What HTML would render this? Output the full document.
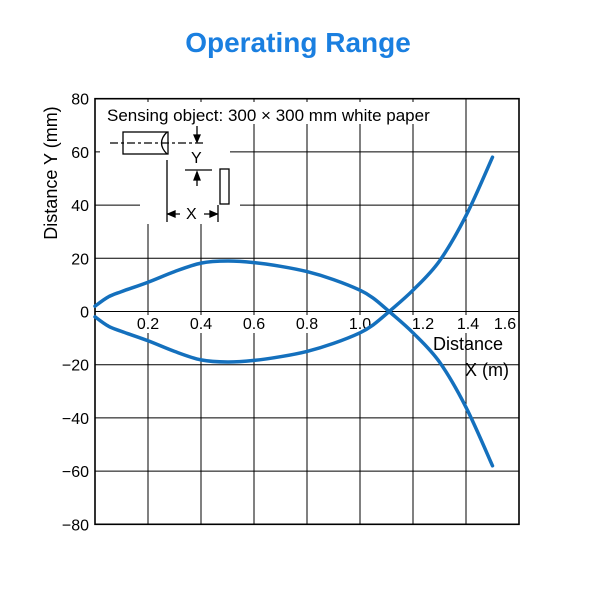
<!DOCTYPE html>
<html><head><meta charset="utf-8"><style>
body{margin:0;background:#fff;width:600px;height:600px;overflow:hidden}
svg{font-family:"Liberation Sans",Arial,sans-serif}
</style></head><body>
<svg width="600" height="600">
<text x="298" y="52" text-anchor="middle" font-size="28" font-weight="bold" fill="#1a7fe0">Operating Range</text>
<g id="grid"></g>
<rect x="100" y="102" width="345" height="22" fill="#fff"/>
<rect x="100" y="124" width="130" height="48" fill="#fff"/>
<rect x="140" y="172" width="100" height="52" fill="#fff"/>
<g id="inset" stroke="#000" fill="none" stroke-width="1.3">
 <text x="107" y="121" font-size="17" fill="#000" stroke="none">Sensing object: 300 × 300 mm white paper</text>
 <rect x="123" y="132" width="45" height="22"/>
 <path d="M167 132 Q156 143 167 154"/>
 <path d="M110 143 H205" stroke-dasharray="8,3,3,3"/>
 <path d="M185 170 H212"/>
 <path d="M197 126 V140 M197 186 V175"/>
 <path d="M194 135 L197 142 L200 135 Z M194 180 L197 172 L200 180 Z" fill="#000"/>
 <text x="191" y="163" font-size="16" fill="#000" stroke="none">Y</text>
 <rect x="220" y="169" width="9" height="35"/>
 <path d="M167 160 V222 M218 205 V222"/>
 <path d="M167 214 H180 M204 214 H218"/>
 <path d="M168 214 L175 211 L175 217 Z M217 214 L210 211 L210 217 Z" fill="#000"/>
 <text x="186" y="219" font-size="16" fill="#000" stroke="none">X</text>
</g>
<g id="axes"></g>
<g id="curves"></g>
<text x="468" y="350" text-anchor="middle" font-size="18">Distance</text>
<text x="487" y="376" text-anchor="middle" font-size="18">X (m)</text>
<text transform="translate(57,173) rotate(-90)" text-anchor="middle" font-size="18">Distance Y (mm)</text>
</svg>
<script>
const xTicks=[0.2,0.4,0.6,0.8,1.0,1.2,1.4,1.6];
const xTickLabels=["0.2","0.4","0.6","0.8","1.0","1.2","1.4","1.6"];
const yTicks=[80,60,40,20,0,-20,-40,-60,-80];
const yTickLabels=["80","60","40","20","0","−20","−40","−60","−80"];
const upperX=[0,0.05,0.1,0.2,0.3,0.4,0.5,0.6,0.7,0.8,0.9,1.0,1.05,1.11,1.2,1.3,1.4,1.5];
const upperY=[2,5.5,7.5,11,15,18.2,19,18.4,17,15,12,8,5,0,-8,-19,-36,-58];
const lowerX=[0,0.05,0.1,0.2,0.3,0.4,0.5,0.6,0.7,0.8,0.9,1.0,1.05,1.11,1.2,1.3,1.4,1.5];
const lowerY=[-2,-5.5,-7.5,-11,-15,-18.2,-19,-18.4,-17,-15,-12,-8,-5,0,8,19,36,58];
const ns="http://www.w3.org/2000/svg";
const X=v=>95+v*265, Y=v=>311.5-v*2.66;
const g=document.getElementById('grid'),ax=document.getElementById('axes'),cv=document.getElementById('curves');
function mk(t,a,p){const e=document.createElementNS(ns,t);for(const k in a)e.setAttribute(k,a[k]);p.appendChild(e);return e;}
xTicks.forEach((t,i)=>{const l=mk('line',{x1:X(t),x2:X(t),y1:Y(80),y2:Y(-80),stroke:'#000','stroke-width':1},g);

});
yTicks.forEach(t=>{const l=mk('line',{x1:X(0),x2:X(1.6),y1:Y(t),y2:Y(t),stroke:'#000','stroke-width':1},g);

});
const fr=mk('rect',{x:X(0),y:Y(80),width:X(1.6)-X(0),height:Y(-80)-Y(80),fill:'none',stroke:'#000','stroke-width':1.6},ax);


const xOff=[0,0,0,0,0,10,2,-14];
xTicks.forEach((t,i)=>{const cx=X(t)+xOff[i];
const bg=mk('rect',{x:cx-13,y:315,width:26,height:18,fill:'#fff'},ax);


const e=mk('text',{x:cx,y:329,'text-anchor':'middle','font-size':16},ax);e.textContent=xTickLabels[i];

});
yTicks.forEach((t,i)=>{const e=mk('text',{x:89,y:Y(t)+6,'text-anchor':'end','font-size':16},ax);e.textContent=yTickLabels[i];

});
function path(xs,ys){const p=xs.map((x,i)=>[X(x),Y(ys[i])]);let d='M'+p[0][0].toFixed(1)+' '+p[0][1].toFixed(1);
for(let i=0;i<p.length-1;i++){const a=p[Math.max(i-1,0)],b=p[i],c=p[i+1],e=p[Math.min(i+2,p.length-1)];
const c1=[b[0]+(c[0]-a[0])/6,b[1]+(c[1]-a[1])/6],c2=[c[0]-(e[0]-b[0])/6,c[1]-(e[1]-b[1])/6];
d+=' C'+c1.map(v=>v.toFixed(1)).join(' ')+' '+c2.map(v=>v.toFixed(1)).join(' ')+' '+c[0].toFixed(1)+' '+c[1].toFixed(1);}
return d;}
const u=mk('path',{d:path(upperX,upperY),fill:'none',stroke:'#1470bd','stroke-width':3.5,'stroke-linejoin':'round','stroke-linecap':'round'},cv);


const lo=mk('path',{d:path(lowerX,lowerY),fill:'none',stroke:'#1470bd','stroke-width':3.5,'stroke-linejoin':'round','stroke-linecap':'round'},cv);


</script>
</body></html>
